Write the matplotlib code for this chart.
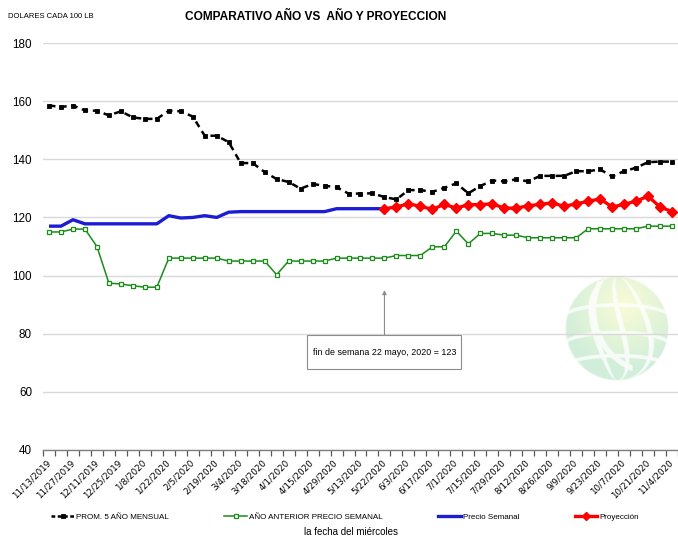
import numpy as np
import matplotlib
matplotlib.use("Agg")
import matplotlib.pyplot as plt
from matplotlib.lines import Line2D
from matplotlib.patches import Rectangle

# ---- data -------------------------------------------------------------
fechas = ["11/13/2019", "11/20/2019", "11/27/2019", "12/4/2019", "12/11/2019",
          "12/18/2019", "12/25/2019", "1/1/2020", "1/8/2020", "1/15/2020",
          "1/22/2020", "1/29/2020", "2/5/2020", "2/12/2020", "2/19/2020",
          "2/26/2020", "3/4/2020", "3/11/2020", "3/18/2020", "3/25/2020",
          "4/1/2020", "4/8/2020", "4/15/2020", "4/22/2020", "4/29/2020",
          "5/6/2020", "5/13/2020", "5/20/2020", "5/22/2020", "5/27/2020",
          "6/3/2020", "6/10/2020", "6/17/2020", "6/24/2020", "7/1/2020",
          "7/8/2020", "7/15/2020", "7/22/2020", "7/29/2020", "8/5/2020",
          "8/12/2020", "8/19/2020", "8/26/2020", "9/2/2020", "9/9/2020",
          "9/16/2020", "9/23/2020", "9/30/2020", "10/7/2020", "10/14/2020",
          "10/21/2020", "10/28/2020", "11/4/2020"]

prom_5_anos = [158.5, 158.0, 158.5, 156.8, 156.7, 155.1, 156.5, 154.4, 153.9, 153.9,
               156.7, 156.5, 154.7, 148.1, 148.1, 145.9, 138.7, 138.7, 135.6, 133.2,
               132.2, 129.9, 131.5, 130.9, 130.4, 128.2, 128.2, 128.3, 127.0, 126.2,
               129.4, 129.4, 128.8, 130.2, 131.7, 128.3, 130.8, 132.7, 132.4, 133.1,
               132.4, 134.3, 134.3, 134.3, 135.9, 135.9, 136.5, 134.1, 135.9, 137.1,
               139.0, 139.2, 139.2]

ano_anterior = [115.0, 115.0, 116.0, 116.0, 110.0, 97.4, 97.1, 96.5, 96.0, 96.0,
                106.0, 106.0, 106.0, 106.0, 106.0, 105.0, 105.0, 105.0, 105.0, 100.3,
                105.0, 105.0, 105.0, 105.0, 106.0, 106.0, 106.0, 106.0, 106.0, 106.9,
                106.9, 106.9, 109.9, 109.9, 115.3, 110.9, 114.5, 114.5, 113.9, 113.9,
                113.0, 113.0, 113.0, 113.0, 113.0, 116.1, 116.1, 116.1, 116.1, 116.1,
                117.0, 117.0, 117.0]

# weekly price up to 22 May 2020
precio_semanal = [117.0, 117.0, 119.2, 117.8, 117.8, 117.8, 117.8, 117.8, 117.8, 117.8,
                  120.6, 119.8, 120.0, 120.6, 120.0, 121.8, 122.0, 122.0, 122.0, 122.0,
                  122.0, 122.0, 122.0, 122.0, 123.0, 123.0, 123.0, 123.0, 123.0]

# projection from 22 May 2020 onward
proyeccion = [123.0, 123.6, 124.7, 123.8, 122.8, 124.5, 123.2, 124.4, 124.4, 124.7,
              123.2, 123.2, 124.0, 124.5, 125.0, 123.8, 124.7, 125.5, 126.4, 123.6,
              124.5, 125.6, 127.3, 123.6, 122.0]

y_ticks = [40, 60, 80, 100, 120, 140, 160, 180]

# ---- fonts ------------------------------------------------------------
SANS = ["Liberation Sans", "DejaVu Sans"]

# ---- figure -----------------------------------------------------------
fig = plt.figure(figsize=(6.78, 5.38), dpi=100)
ax = fig.add_axes([43 / 678, 1 - 450 / 538, 1 - 43 / 678, (450 - 43) / 538])

n = len(fechas)
x = np.arange(n)
x_proj = np.arange(len(precio_semanal) - 1, len(precio_semanal) - 1 + len(proyeccion))

# faint globe logo behind the plot
def globe_image(size=260):
    v, u = np.mgrid[-1:1:size * 1j, -1:1:size * 1j]
    r = np.hypot(u, v)
    yellow = np.array([0.975, 0.985, 0.80])
    green = np.array([0.78, 0.92, 0.82])
    t = np.clip(np.hypot(u - 0.15, v + 0.45) / 1.2, 0, 1)[..., None]
    rgb = yellow * (1 - t) + green * t
    lat = np.sqrt(np.clip(1 - v ** 2, 1e-6, None))
    lines = np.zeros_like(u)
    for c in (-0.45, 0.1, 0.62):
        lines = np.maximum(lines, np.abs(u / lat - c - 0.25 * v) < 0.05)
    for c in (-0.35, 0.18, 0.62):
        lines = np.maximum(lines, np.abs(v - c + 0.22 * (1 - u ** 2) ** 0.5 - 0.12) < 0.035)
    swoosh = (np.abs(np.hypot(u - 0.75, v + 0.35) - 1.2) < 0.05) & (u < 0.3) & (v > -0.9)
    lines = np.maximum(lines, swoosh)
    rgb = rgb * (1 - 0.8 * lines[..., None]) + 0.8 * lines[..., None]
    alpha = np.clip((1 - r) * 40, 0, 1) * 0.8
    return np.dstack([rgb, alpha])

gx, gy, grx, gry = 47.4, 81.6, 4.34, 17.9
ax.imshow(globe_image(), extent=(gx - grx, gx + grx, gy - gry, gy + gry),
          aspect="auto", zorder=0.2, interpolation="bilinear")

ax.plot(x, prom_5_anos, color="black", lw=1.8, dashes=(2.6, 1.9),
        marker="s", ms=3.0, mew=0.6, zorder=4)
ax.plot(x, ano_anterior, color="#1a8c1a", lw=1.1, marker="s", ms=3.3,
        mfc="white", mec="#1a8c1a", mew=0.9, zorder=3)
ax.plot(x[:len(precio_semanal)], precio_semanal, color="#1c1cd4", lw=2.4,
        solid_capstyle="butt", zorder=5)
ax.plot(x_proj, proyeccion, color="#ff0000", lw=2.4, marker="D", ms=4.6,
        zorder=6)

# axes styling
ax.set_xlim(-0.5, n - 0.5)
ax.set_ylim(40, 180)
ax.set_yticks(y_ticks)
ax.set_axisbelow(True)
ax.grid(axis="y", color="#d9d9d9", lw=1.0)
for side in ("left", "right", "top"):
    ax.spines[side].set_visible(False)
ax.spines["bottom"].set_color("#7f7f7f")
ax.spines["bottom"].set_linewidth(1.0)

ax.tick_params(axis="y", length=0, pad=8, labelsize=8.4, labelcolor="black")
for lbl in ax.get_yticklabels():
    lbl.set_family(SANS)

ax.set_xticks(x[::2])
ax.set_xticklabels(fechas[::2], rotation=45, ha="right", va="center",
                   rotation_mode="anchor", fontsize=6.3, family="DejaVu Sans")
ax.set_xticks(np.arange(-0.5, n, 1.0), minor=True)
ax.tick_params(axis="x", which="major", length=0, pad=8)
ax.tick_params(axis="x", which="minor", length=4, color="#595959", width=0.9)

# note about the last observed price
ax.add_patch(Rectangle((21.5, 67.9), 12.9, 11.7, facecolor="white",
                       edgecolor="#8c8c8c", lw=0.8, zorder=7))
ax.text(28, 73.7, "fin de semana 22 mayo, 2020 = 123", ha="center", va="center",
        fontsize=6.4, family=SANS, zorder=8)
ax.annotate("", xy=(28, 95.0), xytext=(28, 79.6),
            arrowprops=dict(arrowstyle="-|>", color="#8c8c8c", lw=0.8,
                            mutation_scale=6, shrinkA=0, shrinkB=0), zorder=8)

# titles
fig.text(315.5 / 678, 1 - 17 / 538, "COMPARATIVO AÑO VS  AÑO Y PROYECCION",
         ha="center", va="center", fontsize=8.6, fontweight="bold", family=SANS)
fig.text(8 / 678, 1 - 16 / 538, "DOLARES CADA 100 LB", ha="left", va="center",
         fontsize=5.5, family=SANS)
fig.text(351 / 678, 1 - 532 / 538, "la fecha del miércoles", ha="center",
         va="center", fontsize=7, family=SANS)

# legend
handles = [
    Line2D([], [], color="black", lw=1.8, dashes=(1.5, 1.0), marker="s", ms=3.0, mew=0.6),
    Line2D([], [], color="#1a8c1a", lw=1.1, marker="s", ms=3.0, mfc="white",
           mec="#1a8c1a", mew=0.9),
    Line2D([], [], color="#1c1cd4", lw=2.4),
    Line2D([], [], color="#ff0000", lw=2.4, marker="D", ms=4),
]
labels = ["PROM. 5 AÑO MENSUAL", "AÑO ANTERIOR PRECIO SEMANAL", "Precio Semanal",
          "Proyección"]
fig.legend(handles, labels, loc="center", bbox_to_anchor=(345 / 678, 1 - 517 / 538),
           ncol=4, frameon=False, handlelength=2.8, handletextpad=0.25,
           columnspacing=6.9, prop={"family": SANS, "size": 5.8})

fig.savefig("out.png", dpi=100)
